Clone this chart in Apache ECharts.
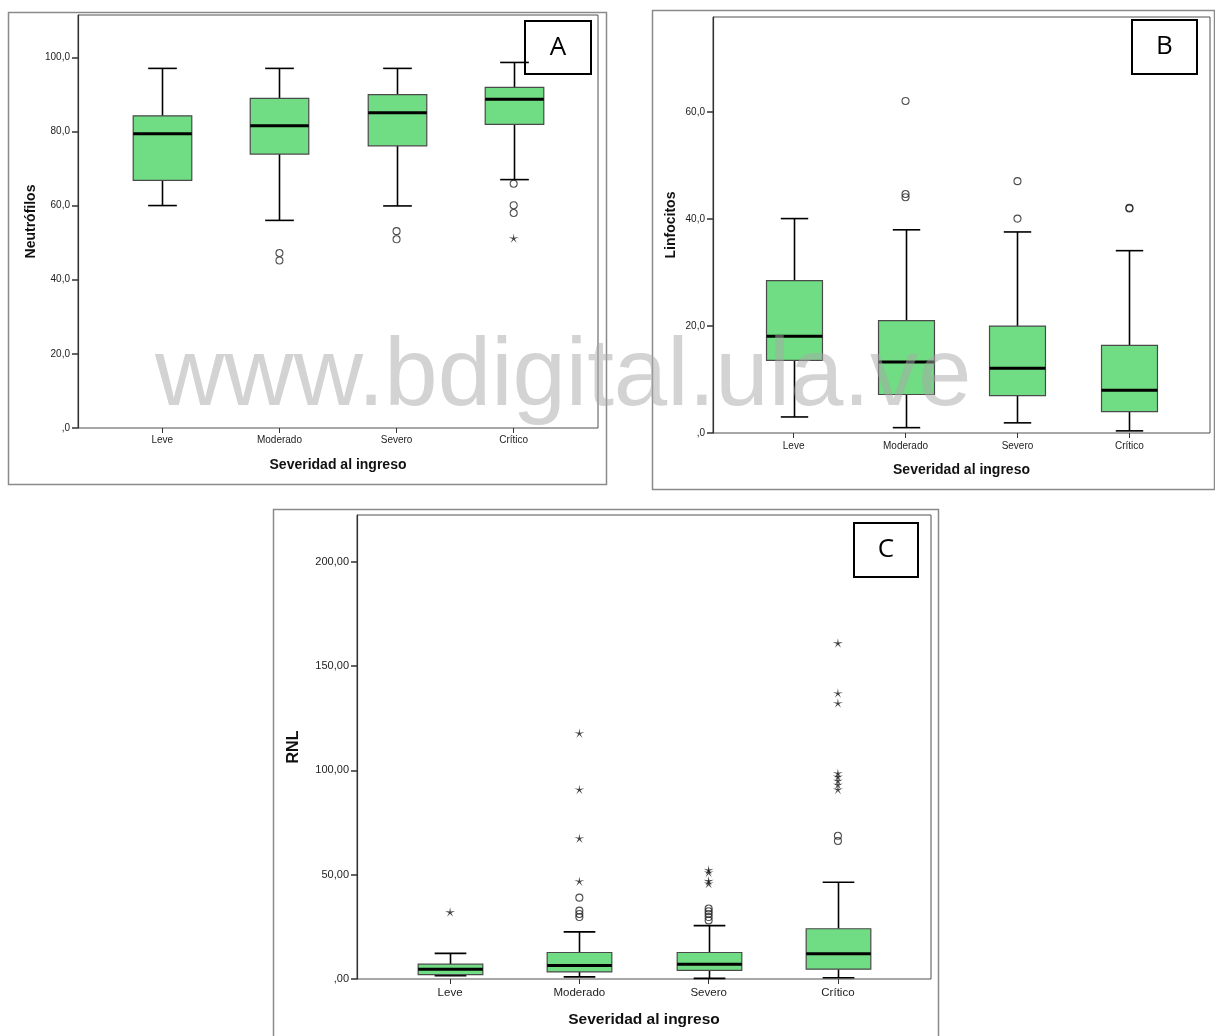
<!DOCTYPE html>
<html>
<head>
<meta charset="utf-8">
<script src="https://cdn.jsdelivr.net/npm/echarts@6/dist/echarts.min.js"></script>
<style>
html,body{margin:0;padding:0;background:#fff;}
#c{width:1215px;height:1036px;}
</style>
</head>
<body>
<div id="c"></div>
<script>
// ---------- DATA ----------
const categories = ['Leve', 'Moderado', 'Severo', 'Crítico'];

// Panel A: Neutrófilos
const neutroMin    = [60.0, 56.0, 59.9, 67.0];
const neutroQ1     = [66.8, 73.9, 76.1, 81.9];
const neutroMedian = [79.4, 81.5, 85.0, 88.7];
const neutroQ3     = [84.2, 88.9, 89.9, 91.9];
const neutroMax    = [97.0, 97.0, 97.0, 98.6];
const neutroOutliers = [[1, 47.2], [1, 45.2], [2, 53.1], [2, 50.9], [3, 65.9], [3, 60.1], [3, 58.0]];
const neutroExtremes = [[3, 51.2]];
const neutroTicks = [0, 20, 40, 60, 80, 100];

// Panel B: Linfocitos
const linfoMin    = [3.0, 1.0, 1.9, 0.4];
const linfoQ1     = [13.6, 7.2, 7.0, 4.0];
const linfoMedian = [18.1, 13.3, 12.1, 8.0];
const linfoQ3     = [28.5, 21.0, 20.0, 16.4];
const linfoMax    = [40.1, 38.0, 37.6, 34.1];
const linfoOutliers = [[1, 62.1], [1, 44.7], [1, 44.1], [2, 47.1], [2, 40.1], [3, 42.1], [3, 42.0]];
const linfoExtremes = [];
const linfoTicks = [0, 20, 40, 60];

// Panel C: RNL
const rnlMin    = [1.6, 1.0, 0.3, 0.6];
const rnlQ1     = [2.1, 3.4, 4.1, 4.7];
const rnlMedian = [4.7, 6.5, 7.1, 12.1];
const rnlQ3     = [7.1, 12.7, 12.7, 24.1];
const rnlMax    = [12.3, 22.6, 25.6, 46.4];
const rnlOutliers = [[1, 39.0], [1, 32.8], [1, 31.2], [1, 29.7],
                     [2, 33.8], [2, 32.5], [2, 31.2], [2, 29.7], [2, 28.1],
                     [3, 68.7], [3, 66.2]];
const rnlExtremes = [[0, 32.1],
                     [1, 117.9], [1, 90.9], [1, 67.5], [1, 46.9],
                     [2, 52.3], [2, 51.1], [2, 47.1], [2, 45.8],
                     [3, 161.1], [3, 137.1], [3, 132.3], [3, 98.7], [3, 97.1], [3, 95.1], [3, 93.2], [3, 90.9]];
const rnlTicks = [0, 50, 100, 150, 200];

// ---------- LAYOUT ----------
const panels = [
  { key:'A', frame:{l:78, t:15, r:598, b:428}, yMax:111.4, interval:20, ticks:neutroTicks, dec:1,
    yName:'Neutrófilos', min:neutroMin, q1:neutroQ1, med:neutroMedian, q3:neutroQ3, max:neutroMax,
    out:neutroOutliers, ext:neutroExtremes, tickFont:10, catFont:10, titleFont:14, yTitleFont:14,
    yNameGap:40, xNameGap:30, catMargin:7 },
  { key:'B', frame:{l:713, t:17, r:1210, b:433}, yMax:77.8, interval:20, ticks:linfoTicks, dec:1,
    yName:'Linfocitos', min:linfoMin, q1:linfoQ1, med:linfoMedian, q3:linfoQ3, max:linfoMax,
    out:linfoOutliers, ext:linfoExtremes, tickFont:10, catFont:10, titleFont:14, yTitleFont:14,
    yNameGap:35, xNameGap:30, catMargin:8 },
  { key:'C', frame:{l:357, t:515, r:931, b:979}, yMax:222.5, interval:50, ticks:rnlTicks, dec:2,
    yName:'RNL', min:rnlMin, q1:rnlQ1, med:rnlMedian, q3:rnlQ3, max:rnlMax,
    out:rnlOutliers, ext:rnlExtremes, tickFont:11, catFont:11.5, titleFont:15.5, yTitleFont:16,
    yNameGap:55, xNameGap:33, catMargin:8 }
];

const starPath = 'path://M10,0 L11.3,8.2 L19.5,6.9 L12.1,10.7 L15.9,18.1 L10,12.2 L4.1,18.1 L7.9,10.7 L0.5,6.9 L8.7,8.2 Z';
const FONT = '"Liberation Sans", Arial, sans-serif';

const grid = [], xAxis = [], yAxis = [], series = [];

function fmt(dec) {
  return function (v) {
    if (v === 0) return dec === 2 ? ',00' : ',0';
    return v.toFixed(dec).replace('.', ',');
  };
}

function renderBox(params, api) {
  const x = api.value(0);
  const lo = api.coord([x, api.value(1)]);
  const q1 = api.coord([x, api.value(2)]);
  const md = api.coord([x, api.value(3)]);
  const q3 = api.coord([x, api.value(4)]);
  const hi = api.coord([x, api.value(5)]);
  const band = api.size([1, 0])[0];
  const bw = band * 0.5, cw = band * 0.245;
  const cx = Math.round(lo[0]) + 0.5;
  const ws = { stroke: '#000', lineWidth: 1.6 };
  return {
    type: 'group',
    children: [
      { type: 'line', shape: { x1: cx, y1: hi[1], x2: cx, y2: q3[1] }, style: ws },
      { type: 'line', shape: { x1: cx, y1: q1[1], x2: cx, y2: lo[1] }, style: ws },
      { type: 'line', shape: { x1: cx - cw / 2, y1: hi[1], x2: cx + cw / 2, y2: hi[1] }, style: ws },
      { type: 'line', shape: { x1: cx - cw / 2, y1: lo[1], x2: cx + cw / 2, y2: lo[1] }, style: ws },
      { type: 'rect', shape: { x: cx - bw / 2, y: q3[1], width: bw, height: q1[1] - q3[1] },
        style: { fill: '#70dd84', stroke: '#4a4a4a', lineWidth: 1.2 } },
      { type: 'line', shape: { x1: cx - bw / 2, y1: md[1], x2: cx + bw / 2, y2: md[1] },
        style: { stroke: '#000', lineWidth: 3 } }
    ]
  };
}

panels.forEach(function (p, i) {
  const f = p.frame;
  const fw = f.r - f.l;
  const spacing = fw / 4.44;
  const innerL = f.l + 0.22 * spacing;
  const gi = i * 2;
  grid.push({ left: f.l, top: f.t, width: fw, height: f.b - f.t, show: true,
    borderColor: '#505050', borderWidth: 1, backgroundColor: 'transparent' });
  grid.push({ left: innerL, top: f.t, width: spacing * 4, height: f.b - f.t, show: false });

  xAxis.push({ gridIndex: gi, type: 'value', min: 0, max: 1, show: false });
  xAxis.push({ gridIndex: gi + 1, type: 'category', data: categories,
    axisLine: { show: false },
    axisTick: { show: true, alignWithLabel: true, length: 5, lineStyle: { color: '#333', width: 1 } },
    axisLabel: { fontSize: p.catFont, color: '#222', margin: p.catMargin, fontFamily: FONT },
    name: 'Severidad al ingreso', nameLocation: 'middle', nameGap: p.xNameGap,
    nameTextStyle: { fontSize: p.titleFont, fontWeight: 'bold', color: '#111', fontFamily: FONT }
  });

  yAxis.push({ gridIndex: gi, type: 'value', min: 0, max: p.yMax, interval: p.interval,
    splitLine: { show: false },
    axisLine: { show: true, lineStyle: { color: '#333', width: 1.2 } },
    axisTick: { show: true, length: 6, lineStyle: { color: '#333', width: 1.5 }, customValues: p.ticks },
    axisLabel: { fontSize: p.tickFont, color: '#222', margin: 8, fontFamily: FONT,
      customValues: p.ticks, formatter: fmt(p.dec) },
    name: p.yName, nameLocation: 'middle', nameGap: p.yNameGap, nameRotate: 90,
    nameTextStyle: { fontSize: p.yTitleFont, fontWeight: 'bold', color: '#111', fontFamily: FONT }
  });
  yAxis.push({ gridIndex: gi + 1, type: 'value', min: 0, max: p.yMax, interval: p.interval, show: false,
    splitLine: { show: false } });

  const boxData = categories.map(function (c, k) {
    return [k, p.min[k], p.q1[k], p.med[k], p.q3[k], p.max[k]];
  });
  series.push({ type: 'custom', xAxisIndex: gi + 1, yAxisIndex: gi + 1, renderItem: renderBox,
    data: boxData, encode: { x: 0, y: [1, 2, 3, 4, 5] }, z: 3, silent: true });
  series.push({ type: 'scatter', xAxisIndex: gi + 1, yAxisIndex: gi + 1, data: p.out,
    symbol: 'circle', symbolSize: 7,
    itemStyle: { color: 'transparent', borderColor: '#222', borderWidth: 1.1 }, z: 4, silent: true });
  series.push({ type: 'scatter', xAxisIndex: gi + 1, yAxisIndex: gi + 1, data: p.ext,
    symbol: starPath, symbolSize: 10, symbolKeepAspect: true,
    itemStyle: { color: '#111' }, z: 4, silent: true });
});

function labelBox(x, y, w, h, txt) {
  return { type: 'group', z: 50, children: [
    { type: 'rect', shape: { x: x, y: y, width: w, height: h }, style: { fill: '#fff', stroke: '#000', lineWidth: 2 } },
    { type: 'text', x: x + w / 2, y: y + h / 2, style: { text: txt, font: '26px "Open Sans", "Liberation Sans", sans-serif',
      fill: '#000', align: 'center', verticalAlign: 'middle' } }
  ]};
}

const graphic = [
  { type: 'rect', z: -1, shape: { x: 8.5, y: 12.5, width: 598, height: 472 }, style: { fill: 'none', stroke: '#8a8a8a', lineWidth: 1.5 } },
  { type: 'rect', z: -1, shape: { x: 652.5, y: 10.5, width: 562, height: 479 }, style: { fill: 'none', stroke: '#8a8a8a', lineWidth: 1.5 } },
  { type: 'rect', z: -1, shape: { x: 273.5, y: 509.5, width: 665, height: 540 }, style: { fill: 'none', stroke: '#8a8a8a', lineWidth: 1.5 } },
  labelBox(525, 21, 66, 53, 'A'),
  labelBox(1132, 20, 65, 54, 'B'),
  labelBox(854, 523, 64, 54, 'C'),
  { type: 'text', z: 100, x: 155, y: 331, silent: true,
    style: { text: 'www.bdigital.ula.ve', font: '96px "Liberation Sans", Arial, sans-serif',
      fill: '#a8a8a8', opacity: 0.5, verticalAlign: 'top', align: 'left' } }
];

const chart = echarts.init(document.getElementById('c'), null, { renderer: 'canvas' });
chart.setOption({
  animation: false,
  backgroundColor: '#fff',
  grid: grid, xAxis: xAxis, yAxis: yAxis, series: series, graphic: graphic
});
</script>
</body>
</html>
